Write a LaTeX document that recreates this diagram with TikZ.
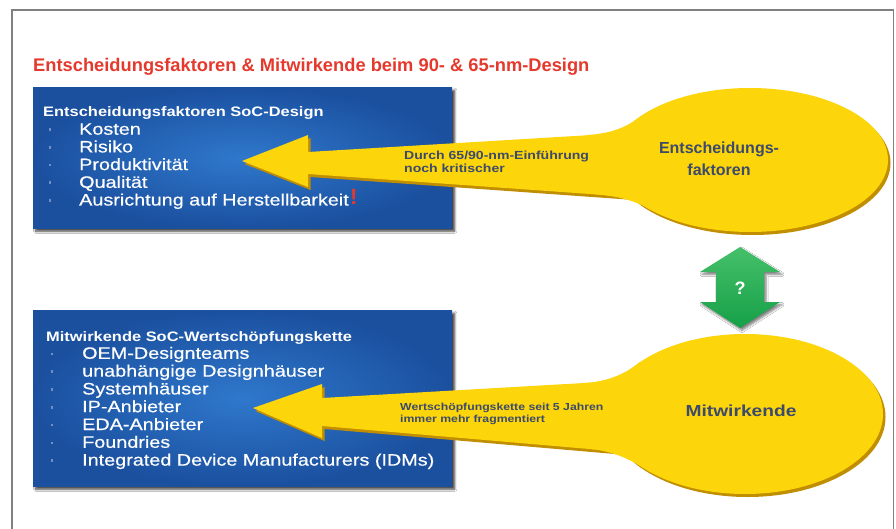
\documentclass[tikz,border=0pt]{standalone}
\usepackage{fontspec}
\setmainfont{Liberation Sans}
\newfontfamily\widefont{Liberation Sans}[FakeStretch=1.2]
\newfontfamily\itemfont{Liberation Sans}[FakeStretch=1.2, FakeBold=0.5]
\usetikzlibrary{shapes.geometric,shadows.blur}

\definecolor{titlered}{HTML}{E5392D}
\definecolor{boxlight}{HTML}{2F78CC}
\definecolor{boxdark}{HTML}{1B509F}
\definecolor{sunyellow}{HTML}{FDD50B}
\definecolor{sunshade}{HTML}{C08E00}
\definecolor{slatetext}{HTML}{3C4A6B}
\definecolor{arrowgreen}{HTML}{16A048}
\definecolor{arrowlight}{HTML}{45C06A}
\definecolor{framegray}{HTML}{808080}
\definecolor{bulletblue}{HTML}{6F8FC6}

\tikzset{
  bluebox/.style={rectangle, inner sep=0, anchor=north west,
    inner color=boxlight, outer color=boxdark,
    blur shadow={shadow xshift=2.5pt, shadow yshift=-3pt,
      shadow blur steps=6, shadow opacity=75}},
  boxhead/.style={anchor=base west, inner sep=0, text=white,
    font=\widefont\bfseries\fontsize{13.7}{15}\selectfont},
  boxitem/.style={anchor=base west, inner sep=0, text=white,
    font=\itemfont\fontsize{16.5}{17}\selectfont},
  bulletdot/.style={fill=bulletblue, inner sep=0, minimum size=2.6pt, rectangle},
  sun/.style={ellipse, fill=sunyellow, inner sep=0},
  sunshadow/.style={fill=sunshade},
  arrownote/.style={anchor=north west, inner sep=0, align=left, text=slatetext},
  sunlabel/.style={inner sep=0, align=center, text=slatetext},
}

\begin{document}
\begin{tikzpicture}[x=1pt, y=-1pt]
\useasboundingbox (0,0) rectangle (896,529);
\fill[white] (0,0) rectangle (896,529);

% outer frame, open at the bottom
\draw[framegray, line width=1.3pt] (12,529) -- (12,10) -- (893.5,10) -- (893.5,529);

% heading
\node[anchor=base west, inner sep=0, text=titlered,
      font=\bfseries\fontsize{18.3}{20}\selectfont] (title) at (33,72)
  {Entscheidungsfaktoren \& Mitwirkende beim 90- \& 65-nm-Design};

% ---------- blue boxes ----------
\node[bluebox, minimum width=419pt, minimum height=141pt] (factbox) at (33,87) {};
\node[bluebox, minimum width=419pt, minimum height=176pt] (partbox) at (33,310) {};

\node[boxhead] (facthead) at (43,117) {Entscheidungsfaktoren SoC-Design};
\foreach \t [count=\i] in {Kosten, Risiko, Produktivität, Qualität,
                           Ausrichtung auf Herstellbarkeit}{
  \node[boxitem] (factitem\i) at (79,{117+17.7*\i}) {\t};
  \node[bulletdot] (factdot\i) at (50,{112+17.7*\i}) {};
}
\node[anchor=base west, inner sep=0, text=titlered,
      font=\bfseries\fontsize{22}{22}\selectfont] (bang)
  at ([xshift=1pt, yshift=1pt]factitem5.base east) {!};

\node[boxhead] (parthead) at (46,341) {Mitwirkende SoC-Wertschöpfungskette};
\foreach \t [count=\i] in {OEM-Designteams, unabhängige Designhäuser,
    Systemhäuser, IP-Anbieter, EDA-Anbieter, Foundries,
    Integrated Device Manufacturers (IDMs)}{
  \node[boxitem] (partitem\i) at (82,{341+17.8*\i}) {\t};
  \node[bulletdot] (partdot\i) at (52,{336+17.8*\i}) {};
}

% ---------- yellow callouts: shadows first ----------
\begin{scope}[shift={(2.5,3)}]
  \fill[sunshadow] (750,160) ellipse [x radius=138, y radius=72];
  \fill[sunshadow] (242,161) -- (308,135) -- (308,152) -- (625,133)
        -- (700,160) -- (632,197) -- (308,174) -- (308,187) -- cycle;
  \fill[sunshadow] (745,414) ellipse [x radius=138, y radius=80];
  \fill[sunshadow] (253,408) -- (322,384) -- (322,398) -- (619,381)
        -- (700,414) -- (624,452) -- (322,426) -- (322,438) -- cycle;
\end{scope}

% upper callout
\node[sun, minimum width=276pt, minimum height=144pt] (factsun) at (750,160) {};
\fill[sunyellow] (242,161) -- (308,135) -- (308,152) -- (625,133)
      -- (700,160) -- (632,197) -- (308,174) -- (308,187) -- cycle;
\fill[sunyellow] (585,135.2) .. controls (610,133.8) and (625,128) .. (640,117)
      -- (650,150) -- cycle;
\fill[sunyellow] (595,194.4) .. controls (620,196) and (638,202) .. (650,209.6)
      -- (660,170) -- cycle;

% lower callout
\node[sun, minimum width=276pt, minimum height=160pt] (partsun) at (745,414) {};
\fill[sunyellow] (253,408) -- (322,384) -- (322,398) -- (619,381)
      -- (700,414) -- (624,452) -- (322,426) -- (322,438) -- cycle;
\fill[sunyellow] (585,383) .. controls (610,381.5) and (628,372) .. (640,362)
      -- (660,400) -- cycle;
\fill[sunyellow] (590,449) .. controls (615,451) and (635,462) .. (650,472)
      -- (660,420) -- cycle;

% callout texts
\node[arrownote, font=\widefont\bfseries\fontsize{11.7}{13}\selectfont] (factnote)
  at (404,151) {Durch 65/90-nm-Einführung\\noch kritischer};
\node[arrownote, font=\widefont\bfseries\fontsize{10.2}{11.5}\selectfont] (partnote)
  at (400,403) {Wertschöpfungskette seit 5 Jahren\\immer mehr fragmentiert};

\node[sunlabel, font=\bfseries\fontsize{16}{22}\selectfont] (factlabel)
  at (719,159) {Entscheidungs-\\faktoren};
\node[sunlabel, font=\widefont\bfseries\fontsize{16}{22}\selectfont] (partlabel)
  at (741,411) {Mitwirkende};

% ---------- green double arrow between the callouts ----------
\path[top color=arrowlight, bottom color=arrowgreen,
      blur shadow={shadow xshift=2pt, shadow yshift=-2.5pt, shadow blur steps=5, shadow opacity=50}]
  (740,247) -- (780,272) -- (764,272) -- (764,302) -- (780,302) -- (740,328)
  -- (700,302) -- (716,302) -- (716,272) -- (700,272) -- cycle;
\node[inner sep=0, text=white, font=\bfseries\fontsize{18}{18}\selectfont] (query)
  at (740,288) {?};
\end{tikzpicture}
\end{document}
